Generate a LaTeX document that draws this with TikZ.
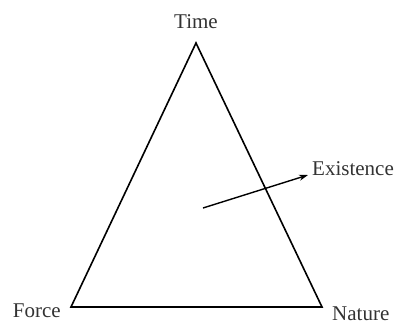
\documentclass[tikz,border=0pt]{standalone}
\usepackage{fontspec}
\setmainfont{Liberation Serif}
\usetikzlibrary{arrows.meta}

\begin{document}
\begin{tikzpicture}[
  x=1pt, y=-1pt,
  >={Stealth[length=9pt,width=6pt]},
  side/.style={line width=1.6pt, line join=miter},
  lbl/.style={inner sep=0pt, font=\fontsize{21}{24}\selectfont, text=black!80},
]
\useasboundingbox (0,0) rectangle (397,325);
% --- corners of the triangle ---
\coordinate (top)   at (196,43);
\coordinate (left)  at (71,307);
\coordinate (right) at (322,307);
\draw[side] (top) -- (left) -- (right) -- cycle;
% --- corner labels ---
\node[lbl,anchor=base]      (time)   at (196,28)  {Time};
\node[lbl,anchor=base east] (force)  at (61,317)  {Force};
\node[lbl,anchor=base west] (nature) at (332,320) {Nature};
% --- the arrow out through the right side ---
\node[lbl,anchor=base west] (exist)  at (312,175) {Existence};
\coordinate (from) at (203,208);
\coordinate (to)   at (308,175);
\draw[->,line width=1.4pt] (from) -- (to);
\end{tikzpicture}
\end{document}
